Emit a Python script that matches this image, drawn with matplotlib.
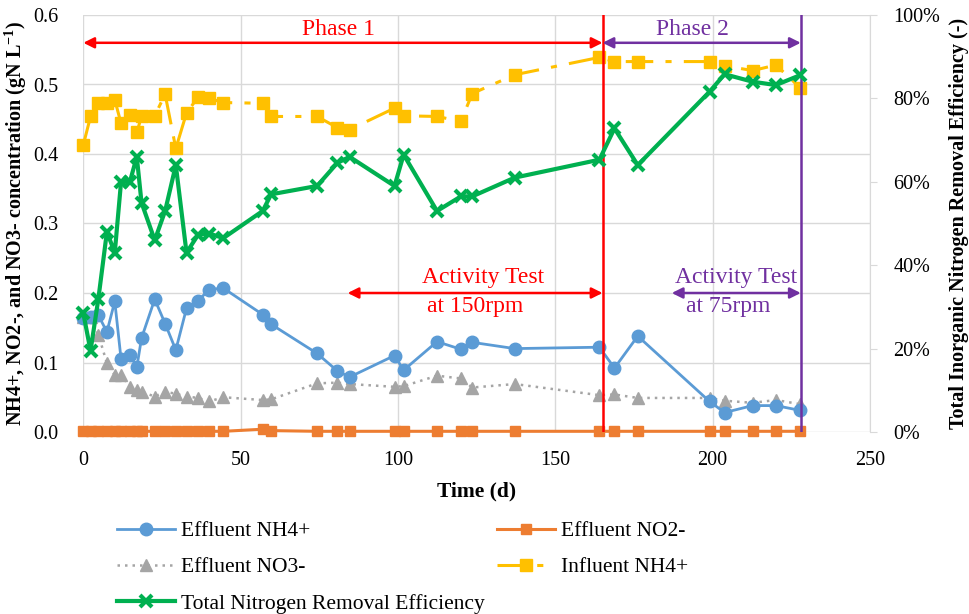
import matplotlib
matplotlib.use("Agg")
import matplotlib.pyplot as plt
from matplotlib.ticker import PercentFormatter, MultipleLocator, FormatStrFormatter

plt.rcParams['font.family'] = ['Liberation Serif', 'DejaVu Serif']
plt.rcParams['mathtext.fontset'] = 'custom'
plt.rcParams['mathtext.rm'] = 'Liberation Serif'
plt.rcParams['mathtext.bf'] = 'Liberation Serif:bold'

days = [0, 2.3, 4.8, 7.5, 10, 12, 14.8, 17, 18.5, 22.7, 26, 29.4, 32.8, 36.5, 40, 44.5,
        57, 59.7, 74.3, 80.7, 84.6, 98.9, 101.8, 112.4, 120, 123.6, 137.1, 164, 168.8,
        176.2, 199, 203.8, 212.7, 220.1, 227.9]

eff_nh4 = [0.164, 0.166, 0.168, 0.144, 0.188, 0.105, 0.111, 0.093, 0.135, 0.191, 0.156, 0.118,
           0.178, 0.189, 0.205, 0.207, 0.169, 0.155, 0.113, 0.088, 0.079, 0.110, 0.089, 0.130,
           0.119, 0.129, 0.120, 0.122, 0.092, 0.138, 0.044, 0.028, 0.038, 0.038, 0.031]

eff_no2 = [0.001, 0.001, 0.001, 0.001, 0.001, 0.001, 0.001, 0.001, 0.001, 0.001, 0.001, 0.001,
           0.001, 0.001, 0.001, 0.001, 0.004, 0.002, 0.001, 0.001, 0.001, 0.001, 0.001, 0.001,
           0.001, 0.001, 0.001, 0.001, 0.001, 0.001, 0.001, 0.001, 0.001, 0.001, 0.001]

eff_no3 = [0.165, 0.165, 0.140, 0.099, 0.082, 0.082, 0.065, 0.061, 0.058, 0.051, 0.058, 0.055,
           0.051, 0.049, 0.044, 0.050, 0.046, 0.047, 0.070, 0.071, 0.069, 0.065, 0.066, 0.081,
           0.077, 0.064, 0.069, 0.053, 0.054, 0.049, 0.049, 0.045, 0.042, 0.046, 0.040]

inf_nh4 = [0.413, 0.454, 0.473, 0.473, 0.478, 0.444, 0.456, 0.431, 0.454, 0.455, 0.486, 0.408,
           0.459, 0.482, 0.480, 0.474, 0.473, 0.454, 0.454, 0.438, 0.435, 0.466, 0.455, 0.454,
           0.447, 0.487, 0.514, 0.539, 0.533, 0.533, 0.533, 0.527, 0.520, 0.528, 0.495]

removal_eff = [28.5, 19.5, 32, 48, 43, 60, 60, 66, 55, 46, 53, 64, 43, 47.3, 47.6, 46.5,
               53, 57, 59, 64.5, 66, 59, 66.5, 53, 56.5, 56.5, 61, 65.3, 72.8, 64, 81.6,
               85.8, 84, 83.2, 85.6]

x_ticks = [0, 50, 100, 150, 200, 250]
phase_change_day = 165
end_day = 228
activity150_start = 84
activity75_start = 187

C_BLUE = '#5B9BD5'
C_ORANGE = '#ED7D31'
C_GREY = '#A5A5A5'
C_YELLOW = '#FFC000'
C_GREEN = '#00B050'
C_RED = '#FF0000'
C_PURPLE = '#7030A0'
GRID = '#D9D9D9'

fig = plt.figure(figsize=(9.7, 6.14), dpi=100)
ax = fig.add_axes([83.3 / 970, 182 / 614, 786.7 / 970, 417 / 614])
ax2 = ax.twinx()

ax.set_xlim(0, 250)
ax.set_ylim(0, 0.6)
ax2.set_ylim(0, 100)
ax.set_xticks(x_ticks)
ax.yaxis.set_major_locator(MultipleLocator(0.1))
ax.yaxis.set_major_formatter(FormatStrFormatter('%.1f'))
ax2.yaxis.set_major_locator(MultipleLocator(20))
ax2.yaxis.set_major_formatter(PercentFormatter(decimals=0))

ax.grid(True, color=GRID, lw=1)
ax.set_axisbelow(True)
for s in ax.spines.values():
    s.set_visible(False)
for s in ['top', 'left', 'bottom']:
    ax2.spines[s].set_visible(False)
ax2.spines['right'].set_color(GRID)
ax.tick_params(axis='both', length=0, labelsize=14.5)
ax.tick_params(axis='y', pad=18)
ax.tick_params(axis='x', pad=14)
ax2.tick_params(axis='y', length=5, color=GRID, labelsize=14.5, pad=12)

l1, = ax.plot(days, eff_nh4, color=C_BLUE, lw=2, marker='o', ms=9, label='Effluent NH4+',
              zorder=4, clip_on=False)
l2, = ax.plot(days, eff_no2, color=C_ORANGE, lw=2.2, marker='s', ms=7.5, label='Effluent NO2-',
              zorder=4, clip_on=False)
l3, = ax.plot(days, eff_no3, color=C_GREY, lw=1.8, ls=(0, (1, 2)), marker='^', ms=8.5,
              label='Effluent NO3-', zorder=3, clip_on=False)
l4, = ax.plot(days, inf_nh4, color=C_YELLOW, lw=2.2, ls=(0, (9, 4, 2, 4)), marker='s', ms=8,
              label='Influent NH4+', zorder=4, clip_on=False)
l5, = ax2.plot(days, removal_eff, color=C_GREEN, lw=3, marker='x', ms=9, mew=3,
               label='Total Nitrogen Removal Efficiency', zorder=5, clip_on=False)

# phase lines and annotations
ax.plot([phase_change_day, phase_change_day], [0, 0.6], color=C_RED, lw=1.8, zorder=6)
ax.plot([end_day, end_day], [0, 0.6], color=C_PURPLE, lw=1.8, zorder=6)

def darrow(x0, x1, y, color):
    ax.annotate('', xy=(x1, y), xytext=(x0, y),
                arrowprops=dict(arrowstyle='<|-|>', color=color, lw=1.8,
                                mutation_scale=16, shrinkA=0, shrinkB=0), zorder=7)

darrow(0, phase_change_day, 0.560, C_RED)
darrow(phase_change_day, end_day, 0.560, C_PURPLE)
darrow(activity150_start, phase_change_day, 0.200, C_RED)
darrow(activity75_start, end_day, 0.200, C_PURPLE)

FS_ANN = 17
ax.text(81, 0.579, 'Phase 1', color=C_RED, fontsize=FS_ANN, ha='center', va='center')
ax.text(193.5, 0.579, 'Phase 2', color=C_PURPLE, fontsize=FS_ANN, ha='center', va='center')
ax.text(127, 0.222, 'Activity Test', color=C_RED, fontsize=FS_ANN, ha='center', va='center')
ax.text(124.5, 0.180, 'at 150rpm', color=C_RED, fontsize=FS_ANN, ha='center', va='center')
ax.text(207.5, 0.222, 'Activity Test', color=C_PURPLE, fontsize=FS_ANN, ha='center', va='center')
ax.text(205, 0.180, 'at 75rpm', color=C_PURPLE, fontsize=FS_ANN, ha='center', va='center')

ax.set_xlabel('Time (d)', fontsize=15.5, fontweight='bold', labelpad=8)
ax.set_ylabel(r'NH4+, NO2-, and NO3- concentration (gN L$^{\mathbf{-1}}$)', fontsize=14.5,
              fontweight='bold')
ax.yaxis.set_label_coords((29 - 83.3) / 786.7, 0.5)
ax2.set_ylabel('Total Inorganic Nitrogen Removal Efficiency (-)', fontsize=14.5,
               fontweight='bold', labelpad=6)

handles = [l1, l3, l5, l2, l4]
fig.legend(handles, [h.get_label() for h in handles], ncol=2, loc='upper left',
           bbox_to_anchor=(117 / 970, 1 - 521 / 614), frameon=False, fontsize=15.5,
           borderpad=0, borderaxespad=0,
           handlelength=2.7, handletextpad=0.25, columnspacing=0.6, labelspacing=0.75)

fig.savefig('out.png', dpi=100)
